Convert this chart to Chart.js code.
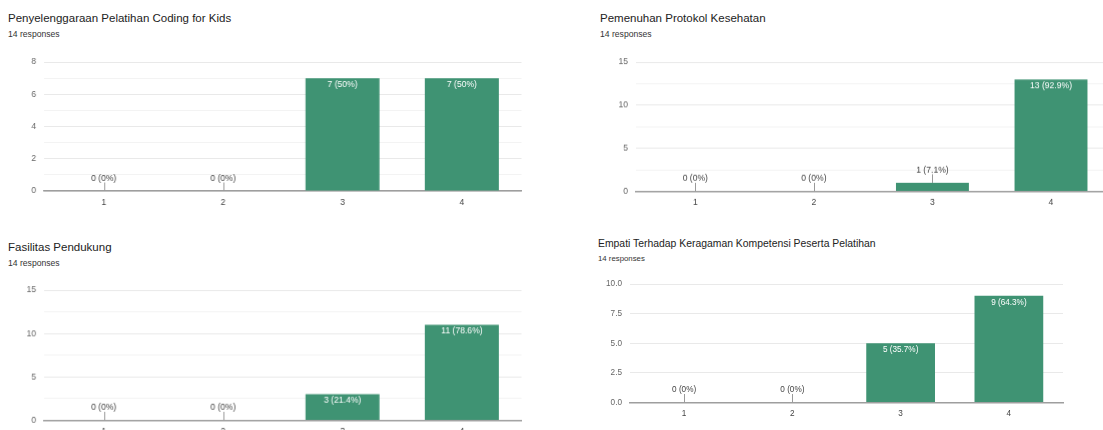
<!DOCTYPE html>
<html><head><meta charset="utf-8">
<script src="https://cdn.jsdelivr.net/npm/chart.js@4"></script>
<style>
html,body{margin:0;padding:0;background:#fff;width:1103px;height:430px;overflow:hidden;position:relative;font-family:"Liberation Sans",Arial,sans-serif;}
.t{position:absolute;white-space:nowrap;color:#222;line-height:1;}
.s{position:absolute;white-space:nowrap;color:#333;line-height:1;}
.box{position:absolute;}
</style></head><body>
<div id="root"></div>
<script>
// ---- data ----
const categories = ['1', '2', '3', '4'];
const totalResponses = 14;
const chartTitles = [
  'Penyelenggaraan Pelatihan Coding for Kids',
  'Pemenuhan Protokol Kesehatan',
  'Fasilitas Pendukung',
  'Empati Terhadap Keragaman Kompetensi Peserta Pelatihan'
];
const subtitleText = '14 responses';
const values1 = [0, 0, 7, 7];
const values2 = [0, 0, 1, 13];
const values3 = [0, 0, 3, 11];
const values4 = [0, 0, 5, 9];
const yMaxes = [8, 15, 15, 10];
const yMajorSteps = [2, 5, 5, 2.5];
const yMinorSteps = [1, 2.5, 2.5, 2.5];
const yTickDecimals = [0, 0, 0, 1];

// ---- layout (plot area in page pixels) ----
const geoms = [
  {L: 44, R: 520.5, T: 62, B: 191, tx: 8, ty: 13, sy: 30, tf: 11.5, sf: 8.6, lf: 8.6, bp: 0.62},
  {L: 635.7, R: 1110, T: 62, B: 190.5, tx: 600, ty: 13, sy: 30, tf: 11.5, sf: 8.6, lf: 8.6, bp: 0.615},
  {L: 44, R: 520.5, T: 290, B: 419.5, tx: 8, ty: 241.5, sy: 258.5, tf: 11.5, sf: 8.6, lf: 8.6, bp: 0.62},
  {L: 630, R: 1063, T: 283.5, B: 402, tx: 598, ty: 238.5, sy: 254.5, tf: 10.4, sf: 7.8, lf: 8.2, bp: 0.635}
];
const allValues = [values1, values2, values3, values4];
const barColor = '#3f9373';

const labelPlugin = {
  id: 'barLabels',
  afterDatasetsDraw(chart, args, opts) {
    const ctx = chart.ctx;
    const meta = chart.getDatasetMeta(0);
    const data = chart.data.datasets[0].data;
    ctx.save();
    ctx.font = opts.size + 'px "Liberation Sans", Arial, sans-serif';
    ctx.textAlign = 'center';
    ctx.textBaseline = 'middle';
    meta.data.forEach((bar, i) => {
      const v = data[i];
      const pct = Math.round(v / totalResponses * 1000) / 10;
      const txt = v + ' (' + pct + '%)';
      const h = bar.base - bar.y;
      if (h < 16) {
        const top = bar.y;
        ctx.strokeStyle = '#9a9a9a';
        ctx.lineWidth = 1;
        ctx.beginPath();
        ctx.moveTo(Math.round(bar.x) + 0.5, top);
        ctx.lineTo(Math.round(bar.x) + 0.5, top - 8.5);
        ctx.stroke();
        ctx.fillStyle = '#444';
        ctx.fillText(txt, bar.x, top - 12.5);
      } else {
        ctx.fillStyle = '#ffffff';
        ctx.fillText(txt, bar.x, bar.y + 6.5);
      }
    });
    ctx.restore();
  }
};

const root = document.getElementById('root');
geoms.forEach((g, k) => {
  const t = document.createElement('div');
  t.className = 't';
  t.style.left = g.tx + 'px'; t.style.top = g.ty + 'px'; t.style.fontSize = g.tf + 'px';
  t.textContent = chartTitles[k];
  root.appendChild(t);
  const s = document.createElement('div');
  s.className = 's';
  s.style.left = g.tx + 'px'; s.style.top = g.sy + 'px'; s.style.fontSize = g.sf + 'px';
  s.textContent = subtitleText;
  root.appendChild(s);

  const padL = 50, padT = 16, padR = 5, xH = 30;
  const box = document.createElement('div');
  box.className = 'box';
  box.style.left = (g.L - padL) + 'px';
  box.style.top = (g.T - padT) + 'px';
  box.style.width = (g.R - g.L + padL + padR) + 'px';
  box.style.height = (g.B - g.T + padT + xH) + 'px';
  const cv = document.createElement('canvas');
  box.appendChild(cv);
  root.appendChild(box);

  const major = yMajorSteps[k];
  new Chart(cv, {
    type: 'bar',
    data: {
      labels: categories,
      datasets: [{data: allValues[k], backgroundColor: barColor, borderWidth: 0,
        barPercentage: g.bp, categoryPercentage: 1}]
    },
    options: {
      responsive: true, maintainAspectRatio: false, animation: false,
      layout: {padding: {left: 0, top: padT, right: padR, bottom: 0}},
      plugins: {legend: {display: false}, tooltip: {enabled: false}, barLabels: {size: g.lf}},
      scales: {
        x: {
          grid: {display: false, drawTicks: false},
          border: {display: true, color: '#9e9e9e', width: 1.5},
          ticks: {color: '#444', padding: 6, font: {size: g.lf, family: '"Liberation Sans", Arial, sans-serif'}},
          afterFit: (sc) => { sc.height = xH; }
        },
        y: {
          min: 0, max: yMaxes[k],
          border: {display: false},
          grid: {drawTicks: false,
            color: (c) => (Math.abs(c.tick.value / major - Math.round(c.tick.value / major)) < 1e-6) ? '#e9e9e9' : '#f3f3f3',
            lineWidth: 1},
          ticks: {stepSize: yMinorSteps[k], padding: 8, color: '#666',
            font: {size: g.lf, family: '"Liberation Sans", Arial, sans-serif'},
            callback: (v) => (Math.abs(v / major - Math.round(v / major)) < 1e-6) ? Number(v).toFixed(yTickDecimals[k]) : ''},
          afterFit: (sc) => { sc.width = padL; }
        }
      }
    },
    plugins: [labelPlugin]
  });
});
</script>
</body></html>
